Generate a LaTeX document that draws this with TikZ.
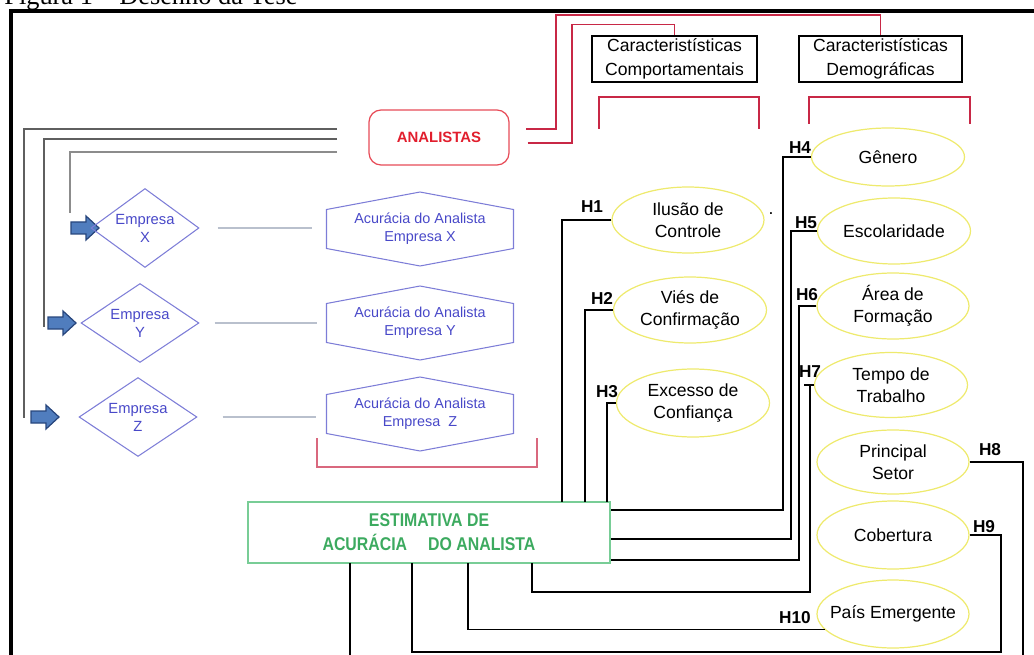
\documentclass[tikz,border=0pt]{standalone}
\usepackage{fontspec}
\setmainfont{Liberation Sans}
\newfontfamily\capfont{Liberation Serif}
\newfontfamily\narrowfont[FakeStretch=0.86]{Liberation Sans}
\usetikzlibrary{shapes.geometric}

\definecolor{empblue}{RGB}{72,72,200}
\definecolor{empline}{RGB}{125,125,215}
\definecolor{seta}{RGB}{80,125,190}
\definecolor{setaborda}{RGB}{40,70,125}
\definecolor{cinzaesc}{RGB}{95,95,95}
\definecolor{cinzaclaro}{RGB}{140,140,140}
\definecolor{cinzaazul}{RGB}{185,192,205}
\definecolor{vermelho}{RGB}{200,40,70}
\definecolor{vermtexto}{RGB}{225,30,45}
\definecolor{amarelo}{RGB}{238,234,110}
\definecolor{verde}{RGB}{60,170,95}
\definecolor{verdeborda}{RGB}{120,205,150}

\tikzset{
  elip/.style={ellipse, draw=amarelo, line width=0.7pt, inner sep=0pt,
    minimum width=3.04cm, minimum height=1.32cm, align=center,
    font=\fontsize{10}{12.5}\selectfont},
  caixa/.style={draw, line width=0.8pt, minimum width=3.3cm, minimum height=0.92cm,
    align=center, inner sep=0pt, font=\fontsize{10}{13.3}\selectfont},
  hlab/.style={inner sep=0pt, font=\fontsize{9.8}{11}\selectfont\bfseries},
  emp/.style={diamond, aspect=1.45, draw=empline, line width=0.6pt, inner sep=0pt,
    minimum width=2.36cm, minimum height=1.58cm, align=center, text=empblue,
    font=\fontsize{8.4}{10.2}\selectfont},
  hexnode/.style={inner sep=0pt, outer sep=0pt, minimum width=3.74cm, minimum height=1.48cm,
    align=center, text=empblue, font=\fontsize{8.2}{10.2}\selectfont},
  hexline/.style={draw=empline, line width=0.6pt},
  link/.style={draw=black, line width=0.75pt},
  gdark/.style={draw=cinzaesc, line width=1pt},
  glight/.style={draw=cinzaclaro, line width=1pt},
  gconn/.style={draw=cinzaazul, line width=1pt},
  redline/.style={draw=vermelho, line width=0.9pt},
  barrow/.style={fill=seta, draw=setaborda, line width=0.7pt}
}

\begin{document}
\begin{tikzpicture}[x=0.02cm, y=-0.02cm]
  \useasboundingbox (0,0) rectangle (1034,655);

  % titulo e moldura
  \node[anchor=base west, inner sep=0pt, font=\capfont\fontsize{15}{18}\selectfont] (titulo) at (4,5) {Figura 1 – Desenho da Tese};
  \draw[line width=0.08cm] (1060,11) -- (11,11) -- (11,700);

  % analistas e caracteristicas
  \node[draw=vermtexto!80, line width=0.7pt, rounded corners=0.24cm, minimum width=2.8cm, minimum height=1.1cm,
    text=vermtexto, font=\fontsize{8.5}{10}\selectfont\bfseries] (an) at (439,137.5) {ANALISTAS};
  \node[caixa] (cc) at (674.5,59) {Caracteristísticas\\Comportamentais};
  \node[caixa, minimum width=3.26cm] (cd) at (880.5,59) {Caracteristísticas\\Demográficas};

  \draw[redline] ([xshift=0.33cm,yshift=0.17cm]an.east) -| (556,15) -| (cd.north);
  \draw[redline] ([xshift=0.36cm,yshift=-0.11cm]an.east) -| (572,24.5) -| (cc.north);
  \draw[redline] (599,129) |- (759,97) -- (759,129);
  \draw[redline] (809,124) |- (970,97) -- (970,124);

  % empresas
  \coordinate (g1) at (337,129);
  \coordinate (g2) at (337,139);
  \coordinate (g3) at (337,152);
  \draw[gdark] (g1) -| (24,418);
  \draw[gdark] (g2) -| (44,327);
  \draw[glight] (g3) -| (70,213);

  \foreach \x/\y in {71/228, 48/323, 31/417}
    \draw[barrow] (\x,\y) ++(0,-6) -- ++(15,0) -- ++(0,-6) -- ++(13,12) -- ++(-13,12) -- ++(0,-6) -- ++(-15,0) -- cycle;

  \node[emp, minimum width=2.16cm] (ex) at (145,228) {Empresa\\X};
  \node[emp] (ey) at (140,323) {Empresa\\Y};
  \node[emp] (ez) at (138,417) {Empresa\\Z};

  \foreach \n/\y/\t in {hx/229/X, hy/323/Y, hz/414/{\ Z}} {
    \node[hexnode] (\n) at (420,\y) {Acurácia do Analista\\Empresa \t};
    \draw[hexline] ([yshift=0.39cm]\n.west) -- (\n.north) -- ([yshift=0.39cm]\n.east)
      -- ([yshift=-0.39cm]\n.east) -- (\n.south) -- ([yshift=-0.39cm]\n.west) -- cycle;
  }

  \draw[gconn, shorten <=0.36cm, shorten >=0.3cm] (ex.east) -- (ex.east -| hx.west);
  \draw[gconn, shorten <=0.3cm, shorten >=0.2cm] (ey.east) -- (ey.east -| hy.west);
  \draw[gconn, shorten <=0.5cm, shorten >=0.22cm] (ez.east) -- (ez.east -| hz.west);
  \draw[redline, draw=vermelho!70] (317,438) |- (537,467) -- (537,438);

  % caracteristicas comportamentais
  \node[elip] (ilu) at (688,220) {Ilusão de\\Controle};
  \node[elip, minimum width=3.06cm] (vie) at (690,310) {Viés de\\Confirmação};
  \node[elip, minimum width=3.06cm, minimum height=1.36cm] (exc) at (693,403) {Excesso de\\Confiança};
  \node[inner sep=0pt] (ponto) at (771,214) {.};

  % caracteristicas demograficas
  \node[elip, minimum width=3.06cm, minimum height=1.16cm] (gen) at (888,157) {Gênero};
  \node[elip, minimum width=3.06cm] (esc) at (894,231) {Escolaridade};
  \node[elip] (are) at (893,306) {Área de\\Formação};
  \node[elip, minimum width=3.06cm, minimum height=1.3cm] (tem) at (891,385) {Tempo de\\Trabalho};
  \node[elip, minimum height=1.28cm] (pri) at (893,462) {Principal\\Setor};
  \node[elip, minimum height=1.36cm] (cob) at (893,535) {Cobertura};
  \node[elip, minimum height=1.36cm, inner xsep=-0.25cm] (pai) at (893,614) {País Emergente};

  % estimativa
  \node[draw=verdeborda, line width=0.8pt, minimum width=7.24cm, minimum height=1.22cm, align=center,
    text=verde, font=\narrowfont\fontsize{10.5}{13.5}\selectfont\bfseries] (est) at (429,532.5)
    {ESTIMATIVA DE\\ACURÁCIA\hspace{0.9em} DO ANALISTA};

  % hipoteses
  \node[hlab] (lh1) at (592,207) {H1};
  \node[hlab] (lh2) at (602,298) {H2};
  \node[hlab] (lh3) at (607,392) {H3};
  \node[hlab] (lh4) at (800,148) {H4};
  \node[hlab] (lh5) at (806,223) {H5};
  \node[hlab] (lh6) at (807,295) {H6};
  \node[hlab] (lh7) at (810,372) {H7};
  \node[hlab] (lh8) at (990,450) {H8};
  \node[hlab] (lh9) at (984,527) {H9};
  \node[hlab] (lh10) at (795,618) {H10};

  \coordinate (b1) at (562,502);
  \coordinate (b2) at (585,502);
  \coordinate (b3) at (607,502);
  \draw[link] (ilu.west) -| (b1);
  \draw[link] (vie.west) -| (b2);
  \draw[link] (exc.west) -| (b3);

  \coordinate (c4) at (783,510);
  \coordinate (c5) at (791,539);
  \coordinate (c6) at (799,560);
  \draw[link] (gen.west) -| (c4) -- (c4 -| est.east);
  \draw[link] (esc.west) -| (c5) -- (c5 -| est.east);
  \draw[link] (are.west) -| (c6) -- (c6 -| est.east);

  \coordinate (c7) at (810,592);
  \coordinate (b7) at (532,563);
  \draw[link] (tem.west) -- ++(-10,0);
  \draw[link] (tem.west) -| (c7) -| (b7);

  \coordinate (c8) at (1023,690);
  \coordinate (b8) at (350,563);
  \draw[link] (pri.east) -| (c8) -| (b8);
  \coordinate (c9) at (1001,652);
  \coordinate (b9) at (412,563);
  \draw[link] (cob.east) -| (c9) -| (b9);
  \coordinate (b10) at (468,563);
  \draw[link] (pai.193) -| (b10);
\end{tikzpicture}
\end{document}
